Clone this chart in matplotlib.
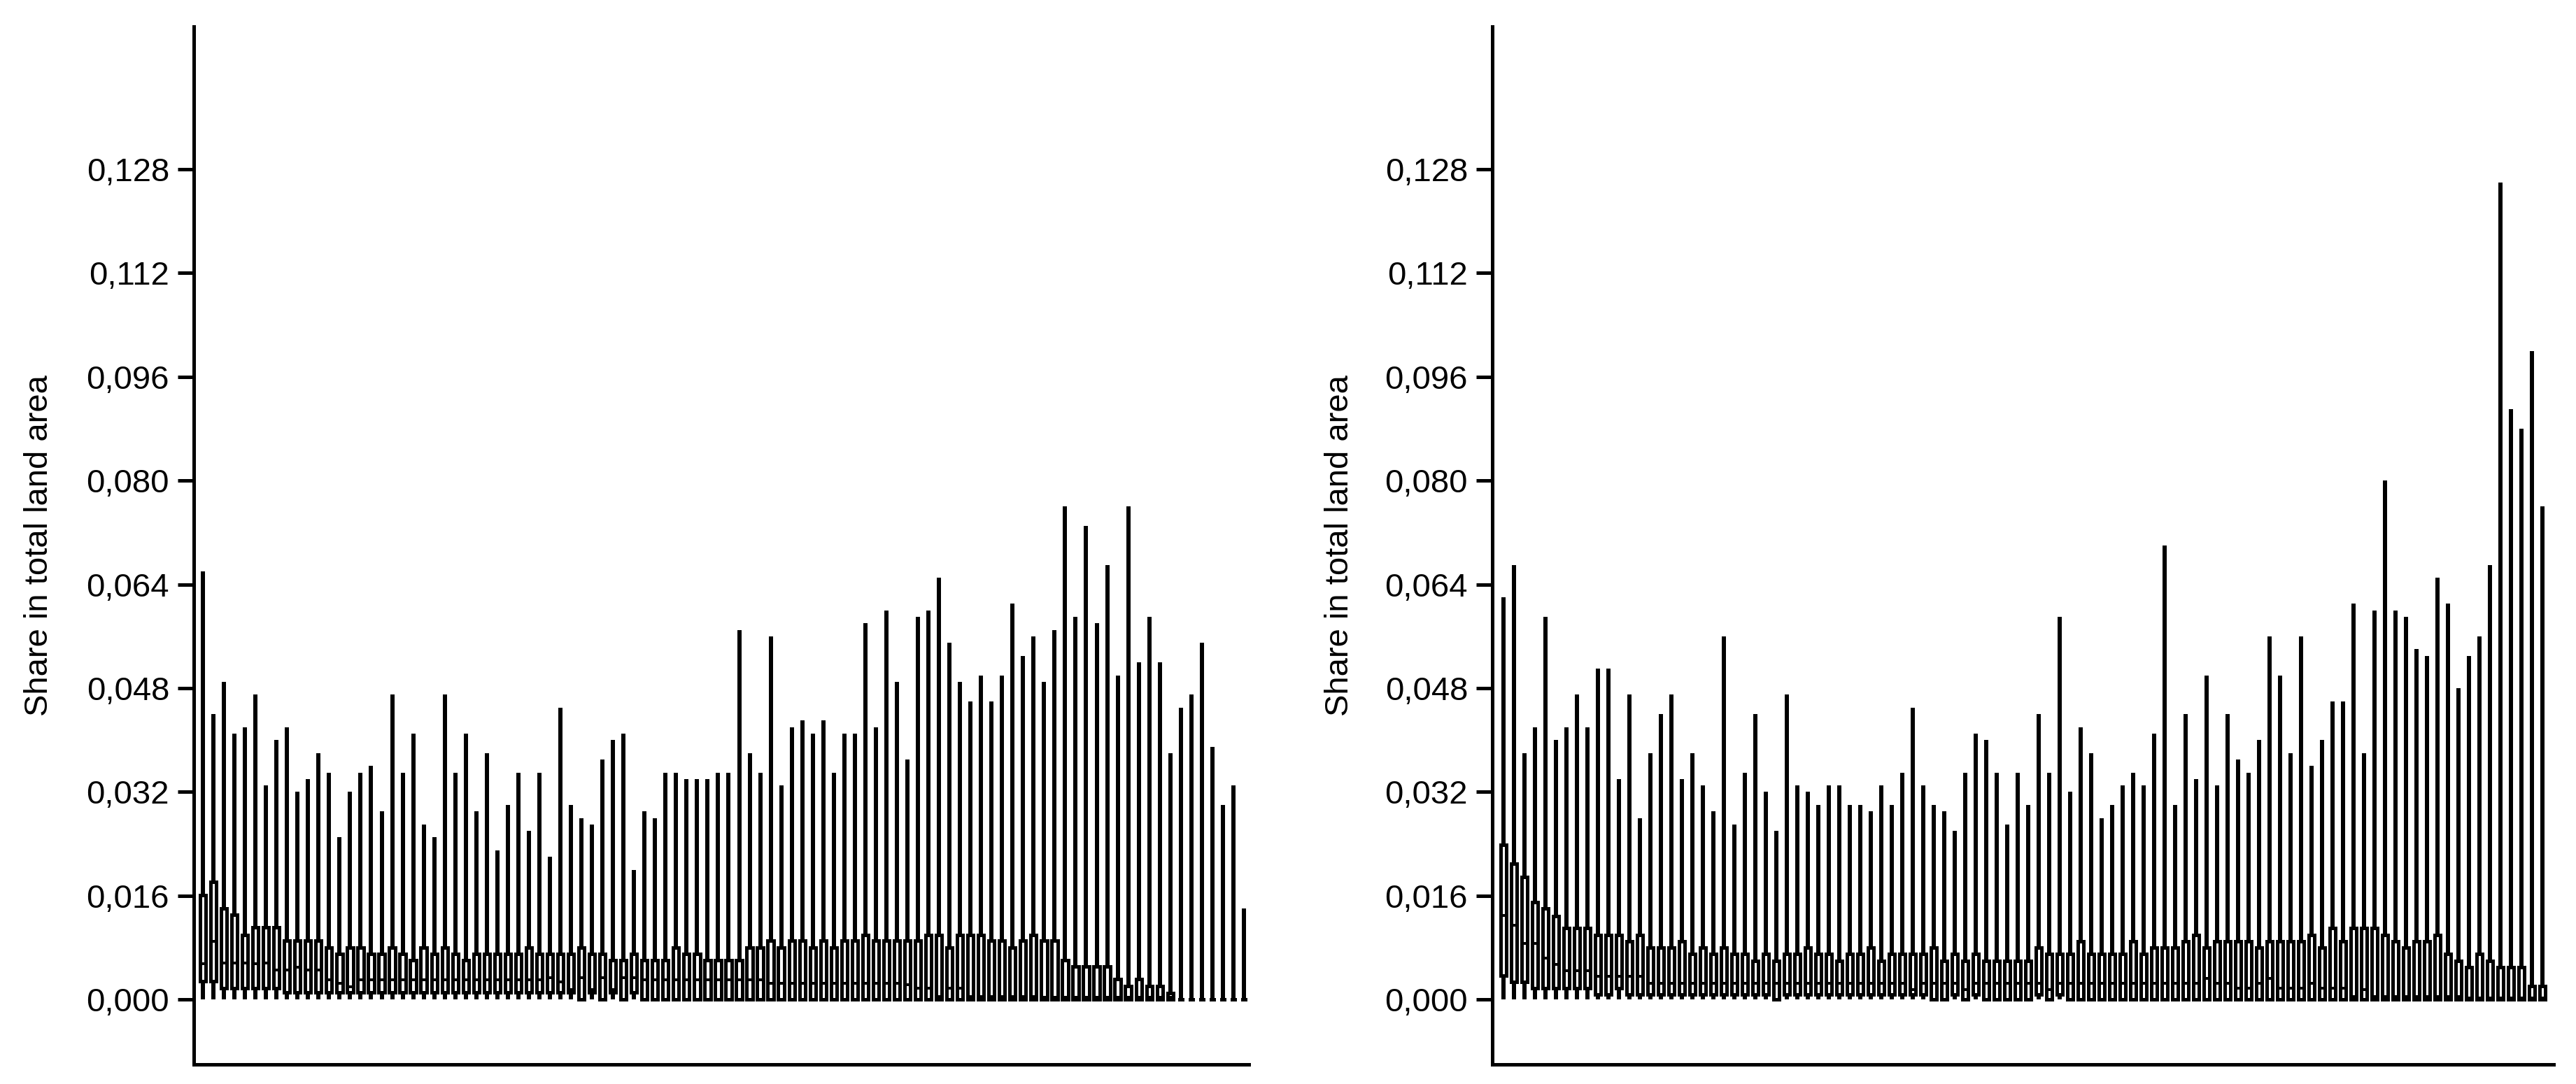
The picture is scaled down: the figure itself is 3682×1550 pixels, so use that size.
import numpy as np
import matplotlib
matplotlib.use("Agg")
import matplotlib.pyplot as plt
from matplotlib.ticker import FuncFormatter

plt.rcParams['font.family'] = ['Liberation Sans', 'DejaVu Sans']

# ---------------- data: left panel ----------------
left_whishi = [0.066, 0.044, 0.049, 0.041, 0.042, 0.047, 0.033, 0.040, 0.042, 0.032,
               0.034, 0.038, 0.035, 0.025, 0.032, 0.035, 0.036, 0.029, 0.047, 0.035,
               0.041, 0.027, 0.025, 0.047, 0.035, 0.041, 0.029, 0.038, 0.023, 0.030,
               0.035, 0.026, 0.035, 0.022, 0.045, 0.030, 0.028, 0.027, 0.037, 0.040,
               0.041, 0.020, 0.029, 0.028, 0.035, 0.035, 0.034, 0.034, 0.034, 0.035,
               0.035, 0.057, 0.038, 0.035, 0.056, 0.033, 0.042, 0.043, 0.041, 0.043,
               0.035, 0.041, 0.041, 0.058, 0.042, 0.060, 0.049, 0.037, 0.059, 0.060,
               0.065, 0.055, 0.049, 0.046, 0.050, 0.046, 0.050, 0.061, 0.053, 0.056,
               0.049, 0.057, 0.076, 0.059, 0.073, 0.058, 0.067, 0.050, 0.076, 0.052,
               0.059, 0.052, 0.038, 0.045, 0.047, 0.055, 0.039, 0.030, 0.033, 0.014]
left_q3 = [0.0161, 0.0181, 0.0140, 0.0131, 0.0100, 0.0111, 0.0111, 0.0111, 0.0091, 0.0091,
           0.0091, 0.0091, 0.0080, 0.0070, 0.0080, 0.0080, 0.0070, 0.0070, 0.0080, 0.0070,
           0.0061, 0.0080, 0.0070, 0.0080, 0.0070, 0.0061, 0.0070, 0.0070, 0.0070, 0.0070,
           0.0070, 0.0080, 0.0070, 0.0070, 0.0070, 0.0070, 0.0080, 0.0070, 0.0070, 0.0061,
           0.0061, 0.0070, 0.0061, 0.0061, 0.0061, 0.0080, 0.0070, 0.0070, 0.0061, 0.0061,
           0.0061, 0.0061, 0.0080, 0.0080, 0.0091, 0.0080, 0.0091, 0.0091, 0.0080, 0.0091,
           0.0080, 0.0091, 0.0091, 0.0100, 0.0091, 0.0091, 0.0091, 0.0091, 0.0091, 0.0100,
           0.0100, 0.0080, 0.0100, 0.0100, 0.0100, 0.0091, 0.0091, 0.0080, 0.0091, 0.0100,
           0.0091, 0.0091, 0.0061, 0.0051, 0.0051, 0.0051, 0.0051, 0.0031, 0.0021, 0.0031,
           0.0021, 0.0021, 0.0010, 0.0, 0.0, 0.0, 0.0, 0.0, 0.0, 0.0]
left_med = [0.0055, 0.0090, 0.0056, 0.0056, 0.0056, 0.0055, 0.0056, 0.0046, 0.0046, 0.0050,
            0.0046, 0.0046, 0.0030, 0.0025, 0.0020, 0.0030, 0.0030, 0.0030, 0.0030, 0.0030,
            0.0030, 0.0030, 0.0030, 0.0030, 0.0030, 0.0030, 0.0030, 0.0030, 0.0030, 0.0030,
            0.0030, 0.0030, 0.0030, 0.0034, 0.0027, 0.0015, 0.0034, 0.0015, 0.0034, 0.0015,
            0.0034, 0.0034, 0.0030, 0.0030, 0.0030, 0.0030, 0.0030, 0.0030, 0.0030, 0.0030,
            0.0030, 0.0030, 0.0030, 0.0030, 0.0025, 0.0025, 0.0025, 0.0025, 0.0025, 0.0025,
            0.0025, 0.0025, 0.0025, 0.0025, 0.0025, 0.0025, 0.0025, 0.0023, 0.0018, 0.0018,
            0.0005, 0.0018, 0.0018, 0.0005, 0.0005, 0.0005, 0.0005, 0.0005, 0.0005, 0.0005,
            0.0003, 0.0003, 0.0003, 0.0003, 0.0003, 0.0003, 0.0003, 0.0003, 0.0003, 0.0003,
            0.0003, 0.0003, 0.0003, 0.0, 0.0, 0.0, 0.0, 0.0, 0.0, 0.0]
left_q1 = [0.0028, 0.0028, 0.0018, 0.0018, 0.0018, 0.0018, 0.0018, 0.0018, 0.0011, 0.0011,
           0.0011, 0.0011, 0.0011, 0.0011, 0.0011, 0.0011, 0.0011, 0.0011, 0.0011, 0.0011,
           0.0011, 0.0011, 0.0011, 0.0011, 0.0011, 0.0011, 0.0011, 0.0011, 0.0011, 0.0011,
           0.0011, 0.0011, 0.0011, 0.0011, 0.0011, 0.0011, 0.0, 0.0011, 0.0, 0.0011,
           0.0, 0.0011] + [0.0] * 58
left_whislo = [0.0] * 100

# ---------------- data: right panel ----------------
right_whishi = [0.062, 0.067, 0.038, 0.042, 0.059, 0.040, 0.042, 0.047, 0.042, 0.051,
                0.051, 0.034, 0.047, 0.028, 0.038, 0.044, 0.047, 0.034, 0.038, 0.033,
                0.029, 0.056, 0.027, 0.035, 0.044, 0.032, 0.026, 0.047, 0.033, 0.032,
                0.030, 0.033, 0.033, 0.030, 0.030, 0.029, 0.033, 0.030, 0.035, 0.045,
                0.033, 0.030, 0.029, 0.026, 0.035, 0.041, 0.040, 0.035, 0.027, 0.035,
                0.030, 0.044, 0.035, 0.059, 0.032, 0.042, 0.038, 0.028, 0.030, 0.033,
                0.035, 0.033, 0.041, 0.070, 0.030, 0.044, 0.034, 0.050, 0.033, 0.044,
                0.037, 0.035, 0.040, 0.056, 0.050, 0.038, 0.056, 0.036, 0.040, 0.046,
                0.046, 0.061, 0.038, 0.060, 0.080, 0.060, 0.059, 0.054, 0.053, 0.065,
                0.061, 0.048, 0.053, 0.056, 0.067, 0.126, 0.091, 0.088, 0.100, 0.076]
right_q3 = [0.0239, 0.0209, 0.0189, 0.0150, 0.0140, 0.0129, 0.0110, 0.0110, 0.0110, 0.0100,
            0.0100, 0.0100, 0.0090, 0.0100, 0.0080, 0.0080, 0.0080, 0.0090, 0.0070, 0.0080,
            0.0070, 0.0080, 0.0070, 0.0070, 0.0060, 0.0070, 0.0060, 0.0070, 0.0070, 0.0080,
            0.0070, 0.0070, 0.0060, 0.0070, 0.0070, 0.0080, 0.0060, 0.0070, 0.0070, 0.0070,
            0.0070, 0.0080, 0.0060, 0.0070, 0.0060, 0.0070, 0.0060, 0.0060, 0.0060, 0.0060,
            0.0060, 0.0080, 0.0070, 0.0070, 0.0070, 0.0090, 0.0070, 0.0070, 0.0070, 0.0070,
            0.0090, 0.0070, 0.0080, 0.0080, 0.0080, 0.0090, 0.0100, 0.0080, 0.0090, 0.0090,
            0.0090, 0.0090, 0.0080, 0.0090, 0.0090, 0.0090, 0.0090, 0.0100, 0.0080, 0.0110,
            0.0090, 0.0110, 0.0110, 0.0110, 0.0100, 0.0090, 0.0080, 0.0090, 0.0090, 0.0100,
            0.0070, 0.0060, 0.0050, 0.0070, 0.0060, 0.0050, 0.0050, 0.0050, 0.0021, 0.0021]
right_med = [0.0130, 0.0115, 0.0086, 0.0086, 0.0064, 0.0054, 0.0045, 0.0045, 0.0045, 0.0036,
             0.0036, 0.0036, 0.0036, 0.0036, 0.0025, 0.0025, 0.0025, 0.0025, 0.0025, 0.0025,
             0.0025, 0.0025, 0.0025, 0.0025, 0.0025, 0.0025, 0.0025, 0.0025, 0.0025, 0.0025,
             0.0025, 0.0025, 0.0025, 0.0025, 0.0025, 0.0025, 0.0025, 0.0025, 0.0025, 0.0015,
             0.0025, 0.0025, 0.0025, 0.0025, 0.0015, 0.0025, 0.0025, 0.0025, 0.0025, 0.0025,
             0.0025, 0.0025, 0.0015, 0.0025, 0.0025, 0.0025, 0.0025, 0.0025, 0.0025, 0.0025,
             0.0025, 0.0025, 0.0025, 0.0025, 0.0025, 0.0025, 0.0025, 0.0033, 0.0025, 0.0025,
             0.0018, 0.0018, 0.0025, 0.0033, 0.0018, 0.0018, 0.0018, 0.0025, 0.0018, 0.0018,
             0.0018, 0.0005, 0.0015, 0.0005, 0.0005, 0.0005, 0.0005, 0.0005, 0.0005, 0.0005,
             0.0005, 0.0005, 0.0002, 0.0002, 0.0002, 0.0002, 0.0002, 0.0002, 0.0002, 0.0002]
right_q1 = ([0.0037, 0.0027, 0.0027] + [0.0017] * 6 + [0.0008, 0.0008, 0.0017] +
            [0.0008] * 14 + [0.0] + [0.0008] * 14 + [0.0, 0.0, 0.0008, 0.0, 0.0008] +
            [0.0] * 5 + [0.0008, 0.0, 0.0008] + [0.0] * 46)
right_whislo = [0.0] * 100

y_ticks = [0.000, 0.016, 0.032, 0.048, 0.064, 0.080, 0.096, 0.112, 0.128]
y_label = "Share in total land area"


def make_stats(lo, q1, med, q3, hi):
    return [dict(whislo=a, q1=b, med=c, q3=d, whishi=e, fliers=[])
            for a, b, c, d, e in zip(lo, q1, med, q3, hi)]


DPI = 200
fig = plt.figure(figsize=(3682 / DPI, 1550 / DPI), dpi=DPI)
px = 72.0 / DPI  # points per pixel

ax_l = fig.add_axes([277 / 3682, 1 - 1522 / 1550, (1785 - 277) / 3682, (1522 - 38) / 1550])
ax_r = fig.add_axes([2133 / 3682, 1 - 1522 / 1550, (3650 - 2133) / 3682, (1522 - 38) / 1550])

panels = [
    (ax_l, make_stats(left_whislo, left_q1, left_med, left_q3, left_whishi), (0.135, 100.47), -0.132),
    (ax_r, make_stats(right_whislo, right_q1, right_med, right_q3, right_whishi), (-0.085, 101.05), -0.129),
]

fmt = FuncFormatter(lambda v, p: f"{v:.3f}".replace('.', ','))

for ax, stats, xlim, labx in panels:
    pos = np.arange(1, len(stats) + 1)
    ax.bxp(stats, positions=pos, widths=0.55, showfliers=False, showcaps=False,
           patch_artist=True,
           boxprops=dict(facecolor='white', edgecolor='black', linewidth=4.6 * px,
                         antialiased=False),
           whiskerprops=dict(color='black', linewidth=4.2 * px, solid_capstyle='butt',
                             antialiased=False),
           medianprops=dict(color='black', linewidth=4.0 * px, solid_capstyle='butt',
                            antialiased=False))
    ax.set_xlim(*xlim)
    ax.set_ylim(-0.01, 0.15)
    ax.set_xticks([])
    ax.set_yticks(y_ticks)
    ax.yaxis.set_major_formatter(fmt)
    ax.tick_params(axis='y', direction='out', length=23 * px, width=5 * px,
                   pad=12 * px, labelsize=17, colors='black')
    for s in ['top', 'right']:
        ax.spines[s].set_visible(False)
    for s in ['left', 'bottom']:
        ax.spines[s].set_linewidth(5 * px)
        ax.spines[s].set_color('black')
        ax.spines[s].set_antialiased(False)
    ax.set_ylabel(y_label, fontsize=17)
    ax.yaxis.set_label_coords(labx, 0.5)

fig.savefig("out.png", dpi=DPI, facecolor='white')
